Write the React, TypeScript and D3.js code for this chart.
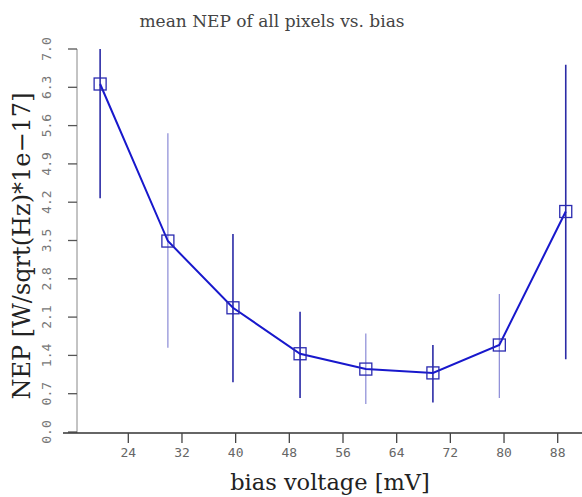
import React from "react";
import * as d3 from "d3";

const biasVoltage = [19.8, 29.9, 39.6, 49.6, 59.4, 69.4, 79.3, 89.2];
const nepMean = [6.36, 3.49, 2.27, 1.43, 1.15, 1.08, 1.59, 4.03];
const nepHigh = [7.0, 5.46, 3.62, 2.2, 1.8, 1.59, 2.52, 6.71];
const nepLow = [4.27, 1.54, 0.91, 0.62, 0.51, 0.54, 0.62, 1.33];
const barDark = [true, false, true, true, false, true, false, true];
const xTicks = [24, 32, 40, 48, 56, 64, 72, 80, 88];
const yTicks = [0.0, 0.7, 1.4, 2.1, 2.8, 3.5, 4.2, 4.9, 5.6, 6.3, 7.0];

const W = 582;
const H = 497;

export default function App() {
  const x = d3.scaleLinear().domain([24, 88]).range([128.3, 557.7]);
  const y = d3.scaleLinear().domain([0, 7]).range([432, 49]);
  const axisY = 77;
  const axisX = 433;
  const xStart = 63;
  const line = d3
    .line<number>()
    .x((_, i) => x(biasVoltage[i]))
    .y((d) => y(d));
  const pts = nepMean.map((v, i) => ({ x: x(biasVoltage[i]), y: y(v) }));
  const ms = 12;
  return (
    <svg
      width={W}
      height={H}
      style={{ position: "absolute", left: 0, top: 0, background: "#fff" }}
    >
      <text
        x={272}
        y={27}
        textAnchor="middle"
        fontFamily="DejaVu Serif"
        fontSize={17}
        fill="#444"
      >
        mean NEP of all pixels vs. bias
      </text>
      {/* y axis */}
      <line x1={axisY} x2={axisY} y1={y(7)} y2={axisX} stroke="#888" strokeWidth={1} />
      {yTicks.map((t) => (
        <g key={t}>
          <line x1={axisY - 9} x2={axisY} y1={y(t)} y2={y(t)} stroke="#555" strokeWidth={1.3} />
          <text
            transform={`translate(${51},${y(t)}) rotate(-90)`}
            textAnchor="middle"
            fontFamily="DejaVu Sans Mono"
            fontSize={13}
            fill="#777"
          >
            {t.toFixed(1)}
          </text>
        </g>
      ))}
      {/* x axis */}
      <line x1={xStart} x2={W} y1={axisX} y2={axisX} stroke="#333" strokeWidth={1.3} />
      {xTicks.map((t) => (
        <g key={t}>
          <line x1={x(t)} x2={x(t)} y1={axisX} y2={axisX + 10} stroke="#444" strokeWidth={1.3} />
          <text
            x={x(t)}
            y={axisX + 24}
            textAnchor="middle"
            fontFamily="DejaVu Sans Mono"
            fontSize={13}
            fill="#666"
          >
            {t}
          </text>
        </g>
      ))}
      <text
        x={330}
        y={490}
        textAnchor="middle"
        fontFamily="DejaVu Serif"
        fontSize={22.5}
        fill="#222"
      >
        bias voltage [mV]
      </text>
      <text
        transform={`translate(${30},${246}) rotate(-90)`}
        textAnchor="middle"
        fontFamily="DejaVu Serif"
        fontSize={24}
        fill="#222"
      >
        NEP [W/sqrt(Hz)*1e−17]
      </text>
      {/* error bars */}
      {biasVoltage.map((b, i) => (
        <line
          key={"e" + i}
          x1={x(b)}
          x2={x(b)}
          y1={y(nepHigh[i])}
          y2={y(nepLow[i])}
          stroke={barDark[i] ? "#2b2ba6" : "#8a8ad6"}
          strokeWidth={barDark[i] ? 1.6 : 1.2}
        />
      ))}
      <path d={line(nepMean) || ""} fill="none" stroke="#1818cc" strokeWidth={2} />
      {pts.map((p, i) => (
        <rect
          key={"m" + i}
          x={p.x - ms / 2}
          y={p.y - ms / 2}
          width={ms}
          height={ms}
          fill="none"
          stroke="#2a2ab0"
          strokeWidth={1.3}
        />
      ))}
    </svg>
  );
}
